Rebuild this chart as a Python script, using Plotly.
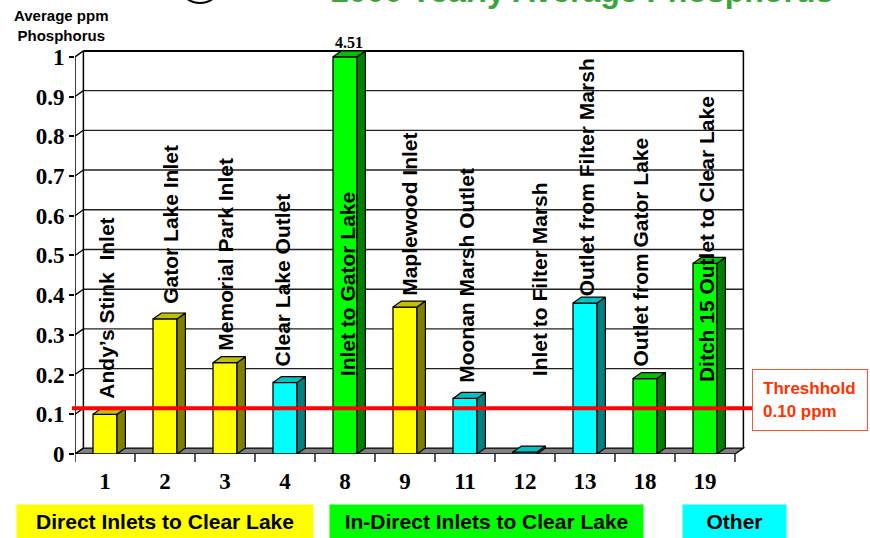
import plotly.graph_objects as go

# ---------------- data ----------------
sites = ["1", "2", "3", "4", "8", "9", "11", "12", "13", "18", "19"]
site_names = ["Andy\u2019s Stink  Inlet", "Gator Lake Inlet", "Memorial Park Inlet",
              "Clear Lake Outlet", "Inlet to Gator Lake", "Maplewood Inlet",
              "Moonan Marsh Outlet", "Inlet to Filter Marsh", "Outlet from Filter Marsh",
              "Outlet from Gator Lake", "Ditch 15 Outlet to Clear Lake"]
phosphorus = [0.10, 0.34, 0.23, 0.18, 4.51, 0.37, 0.14, 0.005, 0.38, 0.19, 0.48]
site_group = ["Direct", "Direct", "Direct", "Other", "Indirect", "Direct",
              "Other", "Other", "Other", "Indirect", "Indirect"]
group_labels = {"Direct": "Direct Inlets to Clear Lake",
                "Indirect": "In-Direct Inlets to Clear Lake",
                "Other": "Other"}
threshold = 0.10
y_ticks = [0, 0.1, 0.2, 0.3, 0.4, 0.5, 0.6, 0.7, 0.8, 0.9, 1]
y_tick_text = ["0", "0.1", "0.2", "0.3", "0.4", "0.5", "0.6", "0.7", "0.8", "0.9", "1"]

# label layout (not data)
label_base = [0.133, 0.372, 0.254, 0.214, 0.191, 0.392, 0.173, 0.191, 0.392, 0.214, 0.176]
label_xshift = [2, 6, 1, -2, 2, 5, 2, 14, 1, -4, 1]

# ---------------- style ----------------
Y_MAX = 1.0
FRONT = {"Direct": "#ffff00", "Indirect": "#00ff00", "Other": "#00ffff"}
SIDE = {"Direct": "#808000", "Indirect": "#008000", "Other": "#008080"}
TOP = {"Direct": "#c0c000", "Indirect": "#00c000", "Other": "#00c0c0"}
DX, DY = 0.14, 0.015      # 3-D depth offset in data units
HW = 0.2                  # half bar width
SERIF = "Liberation Serif"
SANS = "Liberation Sans"

W, H = 870, 538
L, R, T, B = 75, 117, 37, 84
XR = [-0.5, 10.8]
YR = [0, 1.05]


def px(xp):
    return (xp - L) / (W - L - R)


def py(yp):
    return (H - B - yp) / (H - B - T)


xpos = list(range(len(sites)))
shown = [min(v, Y_MAX) for v in phosphorus]

fig = go.Figure()

# front faces
fig.add_trace(go.Bar(
    x=xpos, y=shown, width=2 * HW,
    marker=dict(color=[FRONT[g] for g in site_group], line=dict(color="black", width=1.3)),
    hoverinfo="skip", showlegend=False))

# side and top faces
for g in ["Direct", "Indirect", "Other"]:
    sx, sy, tx, ty = [], [], [], []
    for x, v, gg in zip(xpos, shown, site_group):
        if gg != g:
            continue
        x1 = x + HW
        sx += [x1, x1 + DX, x1 + DX, x1, x1, None]
        sy += [0, DY, v + DY, v, 0, None]
        tx += [x - HW, x - HW + DX, x + HW + DX, x + HW, x - HW, None]
        ty += [v, v + DY, v + DY, v, v, None]
    fig.add_trace(go.Scatter(x=sx, y=sy, mode="lines", fill="toself", fillcolor=SIDE[g],
                             line=dict(color="black", width=1.2), hoverinfo="skip",
                             showlegend=False))
    fig.add_trace(go.Scatter(x=tx, y=ty, mode="lines", fill="toself", fillcolor=TOP[g],
                             line=dict(color="black", width=1.2), hoverinfo="skip",
                             showlegend=False))

shapes = []
x_lo, x_hi = -0.5, len(sites) - 0.5
# floor
shapes.append(dict(type="path", xref="x", yref="y", layer="below",
                   path=f"M{x_lo},0 L{x_hi},0 L{x_hi+DX},{DY} L{x_lo+DX},{DY} Z",
                   fillcolor="#808080", line=dict(color="black", width=1.3)))
# back wall grid lines
for t in y_ticks[1:]:
    shapes.append(dict(type="line", xref="x", yref="y", layer="below",
                       x0=x_lo + DX, x1=x_hi + DX, y0=t + DY, y1=t + DY,
                       line=dict(color="#202020" if t < 1 else "black", width=1.4 if t < 1 else 2)))
# side wall diagonals
for t in y_ticks:
    shapes.append(dict(type="line", xref="x", yref="y", layer="below",
                       x0=x_lo, x1=x_lo + DX, y0=t, y1=t + DY,
                       line=dict(color="black", width=1.3)))
# wall verticals
for xv in [x_lo + DX, x_hi + DX]:
    shapes.append(dict(type="line", xref="x", yref="y", layer="below",
                       x0=xv, x1=xv, y0=DY, y1=Y_MAX + DY,
                       line=dict(color="black", width=1.5)))
# front y axis
shapes.append(dict(type="line", xref="x", yref="y", layer="above",
                   x0=x_lo, x1=x_lo, y0=0, y1=Y_MAX, line=dict(color="black", width=1.5)))
# x tick marks at category boundaries
for i in range(len(sites) + 1):
    xb = x_lo + i
    shapes.append(dict(type="line", xref="x", yref="paper", layer="above",
                       x0=xb, x1=xb, y0=0, y1=py(462), line=dict(color="black", width=1.3)))
# threshold line
shapes.append(dict(type="line", xref="paper", yref="y", layer="above",
                   x0=px(72), x1=px(752), y0=threshold + DY, y1=threshold + DY,
                   line=dict(color="#ff0000", width=4)))
# logo circle (cut off at the top)
shapes.append(dict(type="circle", xref="paper", yref="paper",
                   x0=px(178), x1=px(222), y0=py(3), y1=py(-41),
                   line=dict(color="black", width=2)))

annotations = []
# vertical site labels
for x, name, base, xs in zip(xpos, site_names, label_base, label_xshift):
    annotations.append(dict(x=x, y=base, xref="x", yref="y", text=name, textangle=-90,
                            showarrow=False, xanchor="center", yanchor="bottom", xshift=xs,
                            font=dict(family=SANS, size=21, color="black", weight="bold")))
# value label for clipped bar
for x, v in zip(xpos, phosphorus):
    if v > Y_MAX:
        annotations.append(dict(x=x + DX / 2, y=Y_MAX + DY, xref="x", yref="y", text=f"{v:.2f}",
                                showarrow=False, yanchor="bottom", yshift=-2,
                                font=dict(family=SERIF, size=16, color="black", weight="bold")))
# y-axis title
annotations.append(dict(x=px(61), y=py(26), xref="paper", yref="paper",
                        text="Average ppm<br>Phosphorus", showarrow=False,
                        xanchor="center", yanchor="middle", align="center",
                        font=dict(family=SANS, size=15, color="black", weight="bold")))
# title (cut off at the top of the image)
annotations.append(dict(x=px(582), y=py(11), xref="paper", yref="paper",
                        text="2000 Yearly Average Phosphorus", showarrow=False,
                        xanchor="center", yanchor="bottom",
                        font=dict(family=SANS, size=32, color="#3aa53a", weight="bold")))
# threshold box
annotations.append(dict(x=px(752), y=py(400), xref="paper", yref="paper",
                        text=f"Threshhold<br>{threshold:.2f} ppm", showarrow=False,
                        xanchor="left", yanchor="middle", align="left",
                        width=94, height=40, borderpad=10, bgcolor="white",
                        bordercolor="#ff5533", borderwidth=1,
                        font=dict(family=SANS, size=17, color="#ff3300", weight="bold")))
# group legend boxes
legend_boxes = [("Direct", 17, 313), ("Indirect", 330, 643), ("Other", 683, 786)]
for g, a, b in legend_boxes:
    annotations.append(dict(x=px((a + b) / 2), y=py(521), xref="paper", yref="paper",
                            text=group_labels[g], showarrow=False,
                            xanchor="center", yanchor="middle",
                            width=b - a, height=33, borderpad=0, bgcolor=FRONT[g],
                            font=dict(family=SANS, size=21, color="black", weight="bold")))

fig.update_layout(
    width=W, height=H, margin=dict(l=L, r=R, t=T, b=B),
    paper_bgcolor="white", plot_bgcolor="white",
    showlegend=False, shapes=shapes, annotations=annotations,
    xaxis=dict(range=XR, showgrid=False, zeroline=False, showline=False,
               tickmode="array", tickvals=xpos, ticktext=sites,
               ticks="outside", ticklen=6, tickcolor="rgba(0,0,0,0)",
               tickfont=dict(family=SERIF, size=23, color="black", weight="bold")),
    yaxis=dict(range=YR, showgrid=False, zeroline=False, showline=False,
               tickmode="array", tickvals=y_ticks, ticktext=y_tick_text,
               ticks="outside", ticklen=5, tickwidth=1.5, tickcolor="black",
               tickfont=dict(family=SERIF, size=23, color="black", weight="bold")),
)

fig.write_html("out.html", config={"displayModeBar": False},
               post_script="document.body.style.margin='0px';")
